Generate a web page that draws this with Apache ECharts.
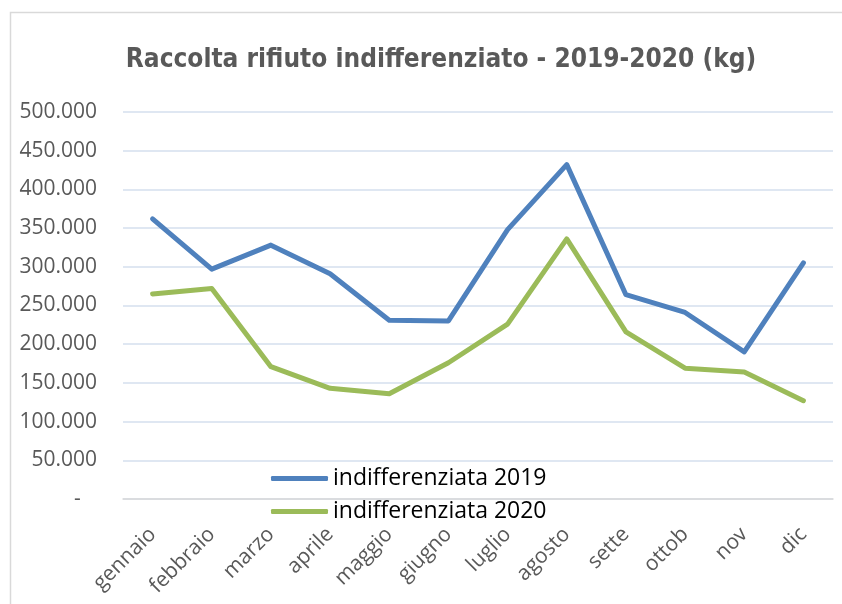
<!DOCTYPE html>
<html>
<head>
<meta charset="utf-8">
<script src="https://cdn.jsdelivr.net/npm/echarts@6/dist/echarts.min.js"></script>
<style>
  html, body { margin: 0; padding: 0; background: #fff; }
  #main { width: 842px; height: 604px; }
</style>
</head>
<body>
<div id="main"></div>
<script>
// dati (kg)
var mesi = ['gennaio', 'febbraio', 'marzo', 'aprile', 'maggio', 'giugno', 'luglio', 'agosto', 'sette', 'ottob', 'nov', 'dic'];
var indiff2019 = [362000, 297000, 328000, 291000, 231000, 230000, 348000, 432000, 264000, 241000, 190000, 305000];
var indiff2020 = [265000, 272000, 171000, 143000, 136000, 176000, 226000, 336000, 216000, 169000, 164000, 127000];
var nomiSerie = ['indifferenziata 2019', 'indifferenziata 2020'];

var myChart = echarts.init(document.getElementById('main'));

// formato stile Excel: punto per le migliaia, zero come trattino
var formatKg = function (v) {
  if (v === 0) return '-   ';
  return String(v).replace(/\B(?=(\d{3})+(?!\d))/g, '.');
};

var option = {
  backgroundColor: '#fff',
  animation: false,
  title: {
    text: 'Raccolta rifiuto indifferenziato - 2019-2020 (kg)',
    left: 436,
    textAlign: 'center',
    top: 42,
    textStyle: {
      fontFamily: "'Liberation Sans Narrow', 'DejaVu Sans Condensed', sans-serif",
      fontSize: 26,
      fontWeight: 'bold',
      color: '#595959'
    }
  },
  graphic: [{
    type: 'rect',
    left: 8, top: 10,
    shape: { width: 900, height: 700 },
    style: { fill: 'none', stroke: '#d9d9d9', lineWidth: 1.5 },
    silent: true, z: -1
  }],
  legend: {
    data: nomiSerie,
    orient: 'vertical',
    left: 271,
    top: 467,
    padding: 0,
    icon: 'roundRect',
    itemWidth: 57,
    itemHeight: 5,
    itemGap: 10,
    textStyle: { fontFamily: "'Open Sans', sans-serif", fontSize: 23, color: '#000' }
  },
  grid: { left: 123, right: 9, top: 112, bottom: 105 },
  xAxis: {
    type: 'category',
    data: mesi,
    axisTick: { show: false },
    axisLine: { lineStyle: { color: '#d9d9d9', width: 1.5 } },
    axisLabel: {
      rotate: 45,
      margin: 32,
      interval: 0,
      fontFamily: "'Open Sans', sans-serif",
      fontSize: 21,
      color: '#595959'
    }
  },
  yAxis: {
    type: 'value',
    min: 0,
    max: 500000,
    interval: 50000,
    axisLine: { show: false },
    axisTick: { show: false },
    splitLine: { lineStyle: { color: '#d4dfee', width: 1.5 } },
    axisLabel: {
      formatter: formatKg,
      margin: 26,
      fontFamily: "'Open Sans', sans-serif",
      fontSize: 21,
      color: '#595959'
    }
  },
  series: [
    {
      name: nomiSerie[0],
      type: 'line',
      data: indiff2019,
      symbol: 'none',
      color: '#4f81bd',
      lineStyle: { width: 5, color: '#4f81bd', cap: 'round', join: 'round' }
    },
    {
      name: nomiSerie[1],
      type: 'line',
      data: indiff2020,
      symbol: 'none',
      color: '#9bbb59',
      lineStyle: { width: 5, color: '#9bbb59', cap: 'round', join: 'round' }
    }
  ]
};

myChart.setOption(option);
</script>
</body>
</html>
